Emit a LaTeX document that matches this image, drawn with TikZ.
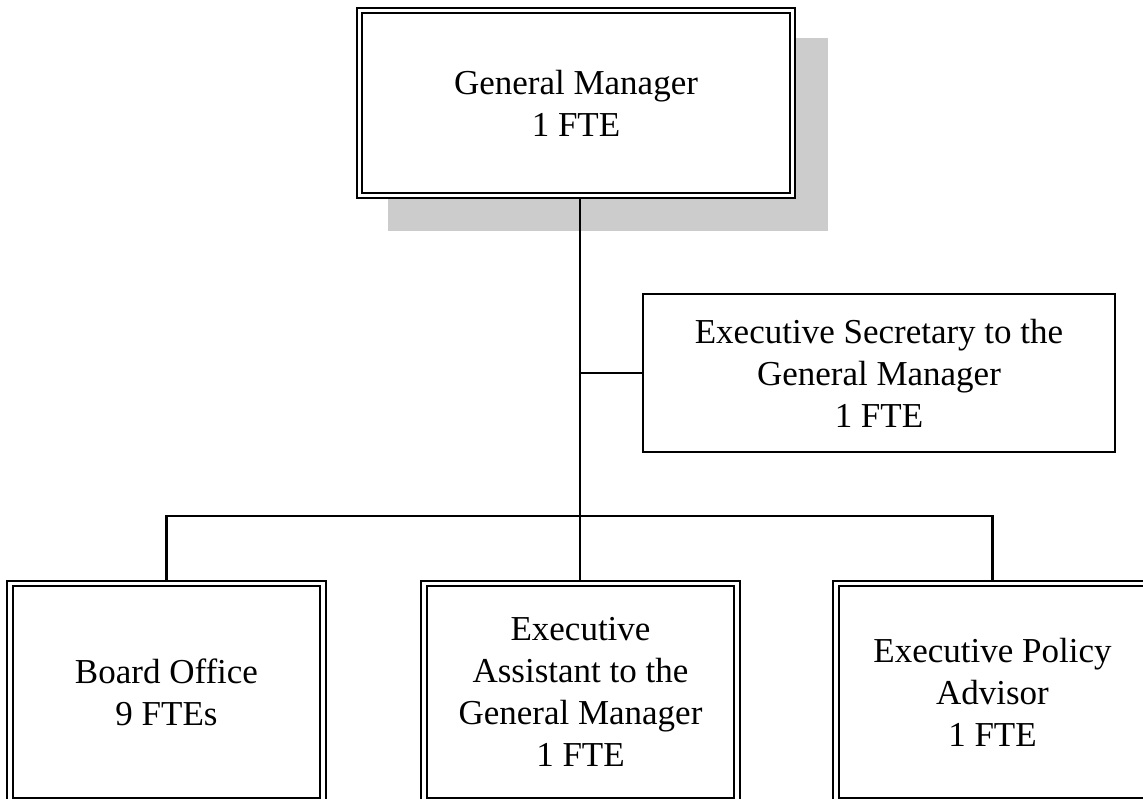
\documentclass[tikz,border=0pt]{standalone}
\usepackage{fontspec}
\setmainfont{Liberation Serif}
\usetikzlibrary{backgrounds}
\begin{document}
\begin{tikzpicture}[x=1pt,y=-1pt,
  txt/.style={font=\fontsize{35}{42}\selectfont, align=center, inner sep=0pt},
  dblbox/.style={txt, draw=black, fill=white, line width=2pt, double=white, double distance=3.4pt},
  sglbox/.style={txt, draw=black, fill=white, line width=2.6pt},
  conn/.style={draw=black, line width=2.6pt},
  shadowfill/.style={fill=black!20, draw=none}]
\useasboundingbox (0,0) rectangle (1143,799);
\clip (0,0) rectangle (1143,799);
% nodes
\node[dblbox, minimum width=433pt, minimum height=185pt] (gm) at (576,103) {General Manager\\1 FTE};
\node[sglbox, minimum width=472pt, minimum height=158pt] (sec) at (879,373) {Executive Secretary to the\\General Manager\\1 FTE};
\node[dblbox, minimum width=313pt, minimum height=217pt] (board) at (166.5,692) {Board Office\\9 FTEs};
\node[dblbox, minimum width=313pt, minimum height=217pt] (assist) at (580.5,692) {Executive\\Assistant to the\\General Manager\\1 FTE};
\node[dblbox, minimum width=313pt, minimum height=217pt] (policy) at (992.5,692) {Executive Policy\\Advisor\\1 FTE};
\coordinate (bus) at (580,516);
\coordinate (tap) at (580,373);
\begin{scope}[on background layer]
  \fill[shadowfill] (388,38) rectangle (828,231);
  \draw[conn] (gm.south -| bus) -- (assist.north -| bus);
  \draw[conn] (tap) -- (sec.west);
  \draw[conn] (board.north) |- (bus) -| (policy.north);
\end{scope}
\end{tikzpicture}
\end{document}
